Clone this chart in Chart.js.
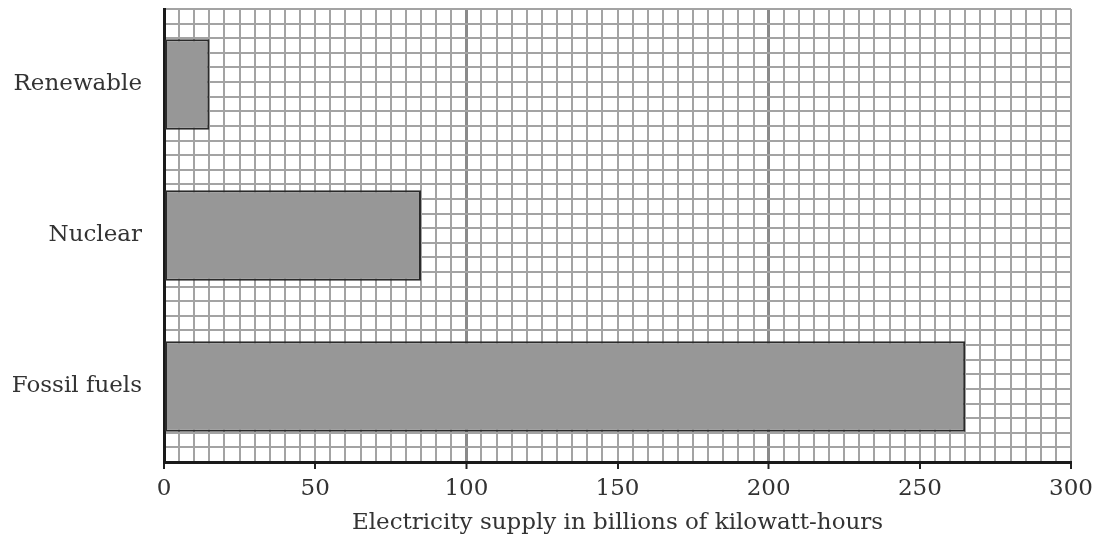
<!DOCTYPE html>
<html>
<head>
<meta charset="utf-8">
<script src="https://cdn.jsdelivr.net/npm/chart.js@4"></script>
<style>
  html, body { margin: 0; padding: 0; background: #ffffff; }
  canvas { display: block; }
</style>
</head>
<body>
<canvas id="c" width="1104" height="549"></canvas>
<script>
const categories = ["Renewable", "Nuclear", "Fossil fuels"];
const supplyValues = [15, 85, 265];
const xTickLabels = [0, 50, 100, 150, 200, 250, 300];
const axisTitle = "Electricity supply in billions of kilowatt-hours";

const FONT = "'DejaVu Serif', 'Liberation Serif', serif";

new Chart(document.getElementById('c'), {
  type: 'bar',
  data: {
    labels: categories,
    datasets: [{
      data: supplyValues,
      backgroundColor: '#979797',
      borderColor: '#2a2a2a',
      borderWidth: 2,
      borderSkipped: false,
      barPercentage: 0.6,
      categoryPercentage: 1.0
    }]
  },
  options: {
    indexAxis: 'y',
    responsive: false,
    animation: false,
    layout: { padding: { left: 0, right: 33, top: 9, bottom: 0 } },
    plugins: { legend: { display: false }, tooltip: { enabled: false } },
    scales: {
      x: {
        type: 'linear',
        min: 0,
        max: 300,
        afterBuildTicks: (axis) => {
          const t = [];
          for (let v = 0; v <= 300; v += 5) t.push({ value: v });
          axis.ticks = t;
        },
        afterFit: (axis) => {
          axis.height = 87;
          axis.paddingLeft = 0;
          axis.paddingRight = 0;
        },
        ticks: {
          autoSkip: false,
          maxRotation: 0,
          padding: 6,
          color: '#333333',
          font: { family: FONT, size: 23 },
          callback: (v) => xTickLabels.includes(v) ? String(v) : ''
        },
        grid: {
          color: (ctx) => (ctx.tick && (ctx.tick.value === 100 || ctx.tick.value === 200)) ? '#8a8a8a' : '#a3a3a3',
          lineWidth: (ctx) => (ctx.tick && (ctx.tick.value === 100 || ctx.tick.value === 200)) ? 3 : 2,
          tickColor: (ctx) => (ctx.tick && ctx.tick.value % 50 === 0) ? '#222222' : 'rgba(0,0,0,0)',
          tickWidth: 2,
          tickLength: 7,
          drawTicks: true
        },
        border: { display: true, color: '#1a1a1a', width: 3 },
        title: {
          display: true,
          text: axisTitle,
          color: '#333333',
          font: { family: FONT, size: 23 },
          padding: { top: 4, bottom: 12 }
        }
      },
      y: {
        type: 'category',
        afterFit: (axis) => {
          axis.width = 164;
          axis.paddingTop = 0;
          axis.paddingBottom = 0;
        },
        ticks: {
          color: '#333333',
          padding: 22,
          font: { family: FONT, size: 23 }
        },
        grid: { display: false, drawTicks: false },
        border: { display: true, color: '#1a1a1a', width: 3 }
      },
      yg: {
        type: 'linear',
        position: 'right',
        min: 0,
        max: 30,
        afterBuildTicks: (axis) => {
          const t = [];
          for (let v = 0; v <= 30; v += 1) t.push({ value: v });
          axis.ticks = t;
        },
        afterFit: (axis) => {
          axis.width = 0;
          axis.paddingTop = 0;
          axis.paddingBottom = 0;
        },
        ticks: { display: false },
        grid: { color: '#a3a3a3', lineWidth: 2, drawTicks: false },
        border: { display: false }
      }
    }
  }
});
</script>
</body>
</html>
